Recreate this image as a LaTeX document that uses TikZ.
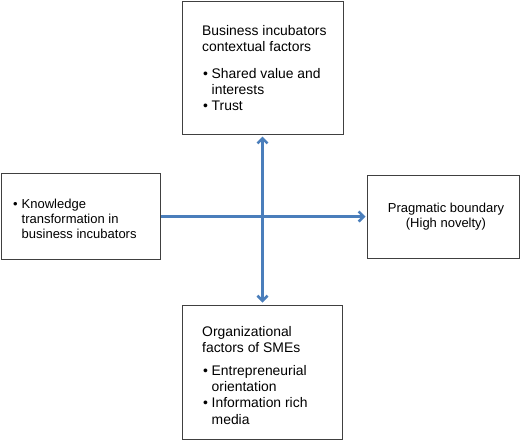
\documentclass[tikz,border=0pt]{standalone}
\usepackage{fontspec}
\setmainfont{Liberation Sans}
\usetikzlibrary{arrows.meta}
\definecolor{arrowblue}{RGB}{74,126,187}
\definecolor{boxgray}{RGB}{64,64,64}
\newcommand{\bulmark}{\makebox[8.5pt][l]{•}}
\newcommand{\bulcont}{\hspace*{8.5pt}}
\begin{document}
\begin{tikzpicture}[x=1pt,y=-1pt,
  box/.style={draw=boxgray, line width=1pt, inner sep=0pt, fill=white},
  bigtxt/.style={inner sep=0pt, align=left, font=\fontsize{13.9}{16.3}\selectfont},
  smalltxt/.style={inner sep=0pt, align=left, font=\fontsize{13}{15}\selectfont},
  conn/.style={draw=arrowblue, line width=2.6pt}]
\useasboundingbox (0,0) rectangle (520,440);
% boxes
\node[box, minimum width=161pt, minimum height=133pt] (top) at (262.5,67.5) {};
\node[box, minimum width=159pt, minimum height=86pt] (left) at (80.5,216.5) {};
\node[box, minimum width=152pt, minimum height=83pt] (right) at (443,216.5) {};
\node[box, minimum width=160pt, minimum height=134pt] (bottom) at (262,372) {};
% connectors
\draw[conn, -{Straight Barb[length=5pt,width=10pt]}, shorten >=1pt] (left.east) -- (right.west);
\draw[conn, {Straight Barb[length=5pt,width=10pt]}-{Straight Barb[length=5pt,width=10pt]}, shorten <=2pt, shorten >=2pt] (top.south) -- (top.south |- bottom.north);
% texts
\node[bigtxt, anchor=north west] (toph) at (202,25) {Business incubators\\contextual factors};
\node[bigtxt, anchor=north west] (topl) at (203,68) {\bulmark Shared value and\\\bulcont interests\\\bulmark Trust};
\node[bigtxt, anchor=north west] (both) at (202,326) {Organizational\\factors of SMEs};
\node[bigtxt, anchor=north west] (botl) at (203,365) {\bulmark Entrepreneurial\\\bulcont orientation\\\bulmark Information rich\\\bulcont media};
\node[smalltxt, anchor=north west] (leftt) at (13,198.5) {\bulmark Knowledge\\\bulcont transformation in\\\bulcont business incubators};
\node[smalltxt, align=center] (rightt) at (446,216.5) {Pragmatic boundary\\(High novelty)};
\end{tikzpicture}
\end{document}
